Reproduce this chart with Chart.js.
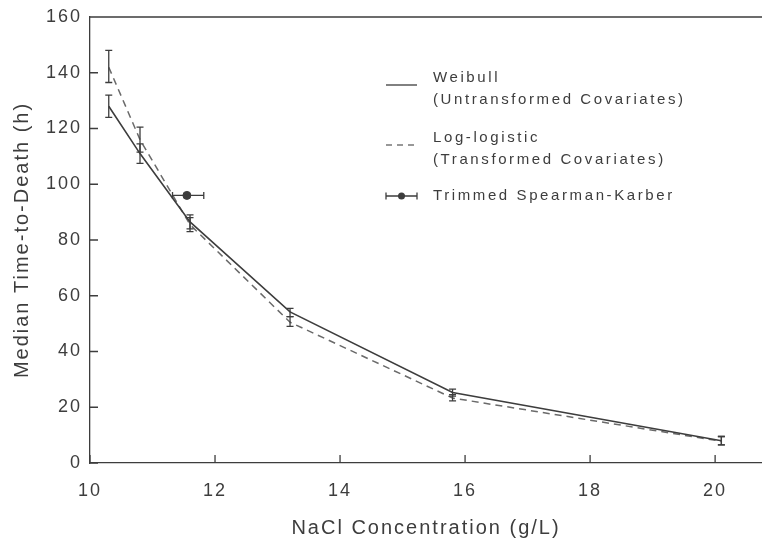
<!DOCTYPE html>
<html>
<head>
<meta charset="utf-8">
<script src="https://cdn.jsdelivr.net/npm/chart.js@4.4.1/dist/chart.umd.min.js"></script>
<style>
    html, body { margin: 0; padding: 0; background: #ffffff; }
    #wrap { width: 762px; height: 553px; }
</style>
</head>
<body>
<div id="wrap"><canvas id="chart" width="762" height="553"></canvas></div>
<script>
// NaCl concentration (g/L)
const concentrations = [10.3, 10.8, 11.6, 13.2, 15.8, 20.1];

// Weibull (untransformed covariates)
const weibull = [128, 111, 86.5, 54.2, 25.3, 8];
const weibullLow = [124, 107.5, 84, 52.5, 24, 6.5];
const weibullHigh = [132, 114.5, 89, 55.5, 26.5, 9.5];

// Log-logistic (transformed covariates)
const logLogistic = [142, 116, 85.5, 50.5, 23.3, 7.8];
const logLogisticLow = [136.5, 111.5, 83, 49, 22.3, 6.5];
const logLogisticHigh = [148, 120.5, 88, 52.5, 24.5, 9.5];

// Trimmed Spearman-Karber
const karberX = [11.55];
const karberY = [96];
const karberLow = [11.32];
const karberHigh = [11.82];

const xTicks = [10, 12, 14, 16, 18, 20];
const yTicks = [0, 20, 40, 60, 80, 100, 120, 140, 160];

const legendItems = [
    { lines: ['Weibull', '(Untransformed Covariates)'], kind: 'solid' },
    { lines: ['Log-logistic', '(Transformed Covariates)'], kind: 'dashed' },
    { lines: ['Trimmed Spearman-Karber'], kind: 'karber' }
];

const ink = '#3d3d3d';
const FONT = '"Liberation Sans", Arial, sans-serif';

function toPoints(xs, ys) {
    return xs.map((x, i) => ({ x: x, y: ys[i] }));
}

// the printed figure uses widely spaced type
const spacingPlugin = {
    id: 'spacing',
    beforeUpdate(chart) { chart.ctx.letterSpacing = '2px'; },
    beforeDraw(chart) { chart.ctx.letterSpacing = '2px'; }
};

const extrasPlugin = {
    id: 'extras',
    afterDatasetsDraw(chart) {
        const ctx = chart.ctx;
        const xs = chart.scales.x;
        const ys = chart.scales.y;
        const area = chart.chartArea;
        ctx.save();
        ctx.strokeStyle = ink;
        ctx.lineWidth = 1.3;

        // inward ticks + top frame
        ctx.beginPath();
        xTicks.forEach(v => {
            const px = xs.getPixelForValue(v);
            ctx.moveTo(px, area.bottom);
            ctx.lineTo(px, area.bottom - 8);
        });
        yTicks.forEach(v => {
            const py = ys.getPixelForValue(v);
            ctx.moveTo(area.left, py);
            ctx.lineTo(area.left + 8, py);
        });
        ctx.moveTo(area.left, area.top);
        ctx.lineTo(area.right, area.top);
        ctx.stroke();

        // vertical error bars
        function vBars(lo, hi) {
            ctx.beginPath();
            concentrations.forEach((c, i) => {
                const px = xs.getPixelForValue(c);
                const y1 = ys.getPixelForValue(lo[i]);
                const y2 = ys.getPixelForValue(hi[i]);
                ctx.moveTo(px, y1); ctx.lineTo(px, y2);
                ctx.moveTo(px - 3.5, y1); ctx.lineTo(px + 3.5, y1);
                ctx.moveTo(px - 3.5, y2); ctx.lineTo(px + 3.5, y2);
            });
            ctx.stroke();
        }
        vBars(weibullLow, weibullHigh);
        vBars(logLogisticLow, logLogisticHigh);

        // horizontal error bars for Spearman-Karber
        ctx.beginPath();
        karberX.forEach((k, i) => {
            const py = ys.getPixelForValue(karberY[i]);
            const x1 = xs.getPixelForValue(karberLow[i]);
            const x2 = xs.getPixelForValue(karberHigh[i]);
            ctx.moveTo(x1, py); ctx.lineTo(x2, py);
            ctx.moveTo(x1, py - 3.5); ctx.lineTo(x1, py + 3.5);
            ctx.moveTo(x2, py - 3.5); ctx.lineTo(x2, py + 3.5);
        });
        ctx.stroke();

        // legend
        ctx.font = '15px ' + FONT;
        ctx.letterSpacing = '2.6px';
        ctx.fillStyle = ink;
        ctx.textBaseline = 'middle';
        const lx0 = 386, lx1 = 417, tx = 433;
        const tops = [78, 138, 196];
        legendItems.forEach((item, i) => {
            const y0 = tops[i];
            item.lines.forEach((t, j) => ctx.fillText(t, tx, y0 + j * 22));
            const sy = item.kind === 'karber' ? y0 : y0 + 7;
            ctx.beginPath();
            if (item.kind === 'dashed') {
                ctx.strokeStyle = '#777';
                ctx.setLineDash([6, 5]);
            } else {
                ctx.strokeStyle = ink;
                ctx.setLineDash([]);
            }
            ctx.moveTo(lx0, sy); ctx.lineTo(lx1, sy);
            if (item.kind === 'karber') {
                ctx.moveTo(lx0, sy - 3.5); ctx.lineTo(lx0, sy + 3.5);
                ctx.moveTo(lx1, sy - 3.5); ctx.lineTo(lx1, sy + 3.5);
            }
            ctx.stroke();
            if (item.kind === 'karber') {
                ctx.beginPath();
                ctx.arc((lx0 + lx1) / 2, sy, 3.5, 0, Math.PI * 2);
                ctx.fill();
            }
        });
        ctx.restore();
    }
};

new Chart(document.getElementById('chart'), {
    type: 'scatter',
    data: {
        datasets: [
            {
                label: 'Weibull',
                data: toPoints(concentrations, weibull),
                showLine: true,
                borderColor: ink,
                borderWidth: 1.6,
                pointRadius: 0,
                tension: 0
            },
            {
                label: 'Log-logistic',
                data: toPoints(concentrations, logLogistic),
                showLine: true,
                borderColor: '#6a6a6a',
                borderWidth: 1.5,
                borderDash: [7, 5],
                pointRadius: 0,
                tension: 0
            },
            {
                label: 'Trimmed Spearman-Karber',
                data: toPoints(karberX, karberY),
                showLine: false,
                pointRadius: 4,
                pointBackgroundColor: ink,
                pointBorderColor: ink
            }
        ]
    },
    options: {
        responsive: false,
        animation: false,
        layout: { autoPadding: false, padding: { top: 17, right: 0, left: 0, bottom: 0 } },
        plugins: {
            legend: { display: false },
            tooltip: { enabled: false }
        },
        scales: {
            x: {
                type: 'linear',
                min: 10,
                max: 20.75,
                afterBuildTicks: (scale) => { scale.ticks = xTicks.map(v => ({ value: v })); },
                afterFit: (scale) => {
                    scale.height = 90;
                    scale.paddingLeft = 0;
                    scale.paddingRight = 0;
                },
                grid: { display: false, drawTicks: false },
                border: { display: true, color: ink, width: 1.3 },
                ticks: {
                    padding: 17,
                    color: ink,
                    font: { family: FONT, size: 18 },
                    maxRotation: 0
                },
                title: {
                    display: true,
                    text: 'NaCl Concentration (g/L)',
                    color: ink,
                    font: { family: FONT, size: 20 },
                    padding: { top: 10, bottom: 13 }
                }
            },
            y: {
                min: 0,
                max: 160,
                afterBuildTicks: (scale) => { scale.ticks = yTicks.map(v => ({ value: v })); },
                afterFit: (scale) => {
                    scale.width = 90;
                    scale.paddingTop = 0;
                    scale.paddingBottom = 0;
                },
                grid: { display: false, drawTicks: false },
                border: { display: true, color: ink, width: 1.3 },
                ticks: {
                    padding: 8,
                    color: ink,
                    font: { family: FONT, size: 18 }
                },
                title: {
                    display: true,
                    text: 'Median Time-to-Death (h)',
                    color: ink,
                    font: { family: FONT, size: 20 },
                    padding: { bottom: 0, top: 10 }
                }
            }
        }
    },
    plugins: [spacingPlugin, extrasPlugin]
});
</script>
</body>
</html>
